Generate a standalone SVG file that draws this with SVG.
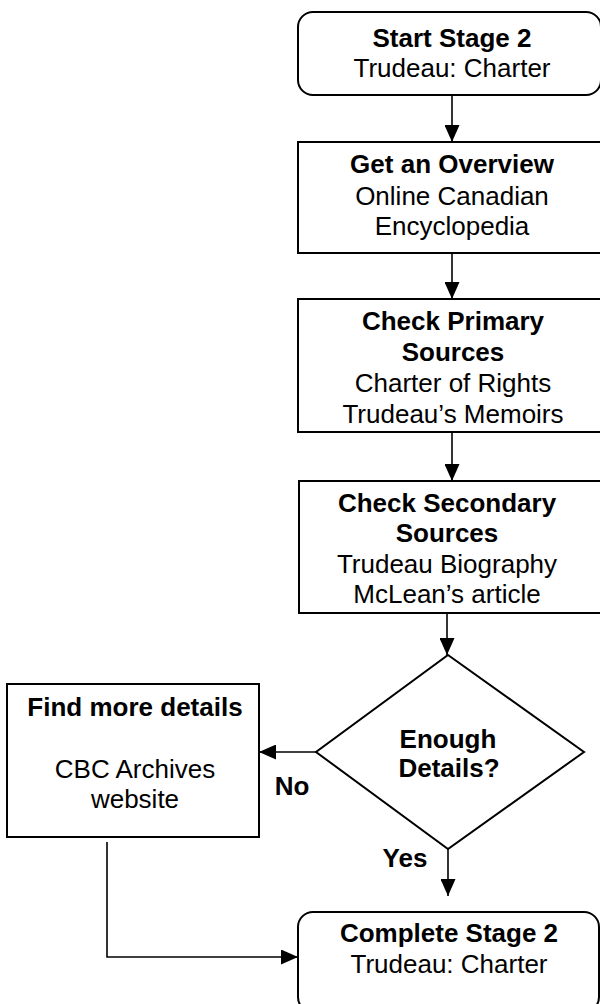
<svg xmlns="http://www.w3.org/2000/svg" width="600" height="1004" viewBox="0 0 600 1004">
<defs>
<style>
.box{fill:#fff;stroke:#000;stroke-width:2}
.con{fill:none;stroke:#000;stroke-width:1.6}
text{font-family:"Liberation Sans",Arial,sans-serif;font-size:26px;fill:#000;text-anchor:middle}
.b{font-weight:bold}
</style>
<marker id="ah" viewBox="0 0 17 15" refX="17" refY="7.5" markerWidth="17" markerHeight="15" markerUnits="userSpaceOnUse" orient="auto">
<path d="M0,0 L17,7.5 L0,15 Z" fill="#000"/>
</marker>
</defs>
<rect width="600" height="1004" fill="#fff"/>
<g id="connectors">
<line class="con" x1="452" y1="95" x2="452" y2="142" marker-end="url(#ah)"/>
<line class="con" x1="452" y1="253" x2="452" y2="299" marker-end="url(#ah)"/>
<line class="con" x1="452" y1="432" x2="452" y2="481" marker-end="url(#ah)"/>
<line class="con" x1="447" y1="613" x2="447" y2="655" marker-end="url(#ah)"/>
<line class="con" x1="316" y1="752" x2="259" y2="752" marker-end="url(#ah)"/>
<line class="con" x1="448" y1="849" x2="448" y2="896" marker-end="url(#ah)"/>
<polyline class="con" points="107,842 107,957 298,957" marker-end="url(#ah)"/>
<text class="b" x="292" y="795">No</text>
<text class="b" x="405" y="867">Yes</text>
</g>
<g id="start">
<rect class="box" x="298" y="12" width="303" height="83" rx="15"/>
<text class="b" x="452" y="47">Start Stage 2</text>
<text x="452" y="77">Trudeau: Charter</text>
</g>
<g id="overview">
<rect class="box" x="298" y="142" width="310" height="111"/>
<text class="b" x="452" y="173">Get an Overview</text>
<text x="452" y="205">Online Canadian</text>
<text x="452" y="235">Encyclopedia</text>
</g>
<g id="primary">
<rect class="box" x="298" y="299" width="310" height="133"/>
<text class="b" x="453" y="330">Check Primary</text>
<text class="b" x="453" y="361">Sources</text>
<text x="453" y="392">Charter of Rights</text>
<text x="453" y="423">Trudeau’s Memoirs</text>
</g>
<g id="secondary">
<rect class="box" x="299" y="481" width="310" height="132"/>
<text class="b" x="447" y="512">Check Secondary</text>
<text class="b" x="447" y="542">Sources</text>
<text x="447" y="573">Trudeau Biography</text>
<text x="447" y="603">McLean’s article</text>
</g>
<g id="decision">
<polygon class="box" points="448,655 584,752 448,849 316,752"/>
<text class="b" x="448" y="748">Enough</text>
<text class="b" x="449" y="777">Details?</text>
</g>
<g id="more">
<rect class="box" x="7" y="684" width="252" height="153"/>
<text class="b" x="135" y="716">Find more details</text>
<text x="135" y="778">CBC Archives</text>
<text x="135" y="808">website</text>
</g>
<g id="complete">
<rect class="box" x="298" y="912" width="301" height="100" rx="15"/>
<text class="b" x="449" y="942">Complete Stage 2</text>
<text x="449" y="973">Trudeau: Charter</text>
</g>
</svg>
